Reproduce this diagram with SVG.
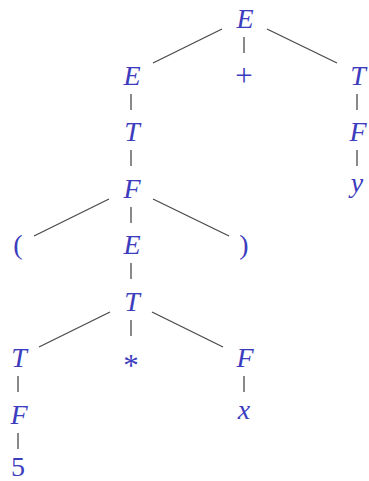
<svg xmlns="http://www.w3.org/2000/svg" width="369" height="481" viewBox="0 0 369 481">
<style>
.t{font-family:"Liberation Serif","Times New Roman",serif;font-size:28px;fill:#3c3cbe;text-anchor:middle}
.i{font-style:italic}
.o{font-size:31px}
.e{stroke:#4a4a4a;stroke-width:1.3;fill:none}
</style>
<rect width="369" height="481" fill="#fff"/>
<g id="connectors" class="e">
<line x1="222" y1="29" x2="153" y2="63"/>
<line x1="244" y1="37" x2="244" y2="53"/>
<line x1="267" y1="29" x2="337" y2="63"/>
<line x1="131" y1="94" x2="131" y2="110"/>
<line x1="357" y1="94" x2="357" y2="110"/>
<line x1="131" y1="150" x2="131" y2="166"/>
<line x1="357" y1="150" x2="357" y2="166"/>
<line x1="109" y1="199" x2="34" y2="236"/>
<line x1="131" y1="207" x2="131" y2="223"/>
<line x1="153" y1="199" x2="229" y2="236"/>
<line x1="131" y1="263" x2="131" y2="279"/>
<line x1="110" y1="312" x2="39" y2="347"/>
<line x1="131" y1="320" x2="131" y2="336"/>
<line x1="152" y1="312" x2="223" y2="347"/>
<line x1="18" y1="376" x2="18" y2="392"/>
<line x1="244" y1="376" x2="244" y2="392"/>
<line x1="18" y1="433" x2="18" y2="449"/>
</g>
<g id="n0"><text class="t i" x="245" y="28">E</text></g>
<g id="n1"><text class="t i" x="132" y="85">E</text></g>
<g id="n2"><text class="t o" x="244" y="86">+</text></g>
<g id="n3"><text class="t i" x="358" y="85">T</text></g>
<g id="n4"><text class="t i" x="132" y="141">T</text></g>
<g id="n5"><text class="t i" x="358" y="141">F</text></g>
<g id="n6"><text class="t i" x="132" y="198">F</text></g>
<g id="n7"><text class="t i" x="357" y="192">y</text></g>
<g id="n8"><text class="t" x="18" y="254">(</text></g>
<g id="n9"><text class="t i" x="132" y="254">E</text></g>
<g id="n10"><text class="t" x="244" y="254">)</text></g>
<g id="n11"><text class="t i" x="132" y="311">T</text></g>
<g id="n12"><text class="t i" x="19" y="367">T</text></g>
<g id="n13"><text class="t o" x="131" y="376">*</text></g>
<g id="n14"><text class="t i" x="245" y="367">F</text></g>
<g id="n15"><text class="t i" x="19" y="424">F</text></g>
<g id="n16"><text class="t i" x="244" y="419">x</text></g>
<g id="n17"><text class="t" x="18" y="476">5</text></g>
</svg>
